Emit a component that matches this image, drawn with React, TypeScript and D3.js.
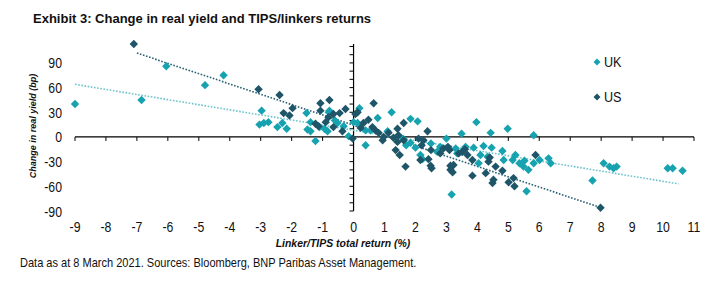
import React from "react";
import * as d3 from "d3";

// UK linkers: [total return %, change in real yield bp]
const ukPoints: [number, number][] = [
  [-9.0, 40], [-6.85, 45], [-6.05, 86], [-4.8, 63], [-4.2, 75],
  [-2.97, 32], [-3.04, 15], [-2.9, 17], [-2.75, 18], [-2.46, 12], [-2.3, 17], [-2.16, 10],
  [-1.52, 29], [-1.39, 18], [-1.49, 9], [-1.39, 7], [-1.23, -5], [-0.94, 10], [-0.84, 7],
  [-0.78, 32], [-0.8, 30], [-0.52, 17], [-0.32, 13], [-0.16, 1], [-1.1, 12], [-0.6, 20],
  [0.0, 18], [0.13, 17], [0.19, 35], [0.39, 8], [0.55, 8], [0.39, -10], [0.78, 23], [1.1, 7],
  [1.23, 30], [1.84, 22], [2.07, 19], [1.84, -7], [2.0, -13], [2.23, -27], [2.16, -22],
  [1.6, -2], [1.7, -10], [2.5, -8], [2.8, -12], [3.0, -2], [2.7, -18], [3.1, -15], [3.3, -14],
  [3.35, -20], [3.49, 4], [3.97, 18], [4.43, 5], [4.98, 10], [5.82, 2], [3.62, -12], [3.88, -13],
  [4.2, -11], [4.46, -13], [4.04, -32], [4.33, -24], [4.1, -22], [4.81, -17], [5.23, -22],
  [4.85, -28], [5.14, -28], [5.36, -32], [5.49, -36], [5.65, -40], [5.52, -29], [5.59, -66],
  [5.82, -32], [6.01, -28], [6.3, -26], [6.37, -32], [3.17, -70], [3.5, -18],
  [7.72, -53], [8.08, -32], [8.27, -36], [8.4, -38], [8.5, -36], [10.15, -38], [10.31, -38], [10.63, -41],
];

// US TIPS
const usPoints: [number, number][] = [
  [-7.1, 113], [-3.07, 58], [-2.39, 51], [-2.26, 29], [-1.97, 35], [-2.07, 26], [-1.07, 41],
  [-0.78, 45], [-1.07, 32], [-0.45, 29], [-0.26, 34], [-0.65, 28], [-0.81, 24], [-0.9, 18],
  [-1.23, 16], [-1.13, 13], [-0.65, 12], [-0.36, 7], [-0.03, -2],
  [0.06, 28], [0.13, 30], [0.65, 41], [0.32, 17], [0.48, 21], [0.61, 12], [0.23, 11], [0.71, 8],
  [0.81, 5], [0.94, -4], [0.97, 0], [1.13, 5], [1.29, -1], [1.42, 10], [1.62, 17], [2.39, 7],
  [1.45, 2], [1.62, -4], [1.42, -6], [1.36, -16], [1.49, -22], [1.68, -36], [2.1, -2], [2.26, -4],
  [2.16, -28], [2.42, -27], [2.49, -35], [2.52, -38], [3.13, -35],
  [2.2, -10], [2.5, -16], [2.8, -20], [2.9, -14], [3.05, -12], [3.1, -16], [3.2, -43], [3.23, -34],
  [3.13, -40], [3.4, -20], [3.52, -18], [3.68, -22], [3.84, -28], [3.6, -15], [4.36, -30],
  [4.59, -36], [4.81, -41], [4.27, -44], [3.84, -47], [4.52, -52], [4.49, -56], [5.01, -55],
  [5.17, -50], [5.2, -60], [5.88, -22], [7.98, -86], [4.4, -25],
];

// dotted trend lines (end points)
const ukTrend: [number, number][] = [[-9, 64], [10.5, -57]];
const usTrend: [number, number][] = [[-7, 102], [8, -86]];

const xTicks = d3.range(-9, 12, 1);
const yTickLabels = [90, 60, 30, 0, -30, -60, -90];
const yMinorTicks = d3.range(-90, 111, 10);

const UK_COLOR = "#17a2b0";
const US_COLOR = "#1f5568";
const FONT = "'Liberation Sans', Arial, sans-serif";
const NARROW = 0.82; // squeeze to mimic Arial Narrow

const diamond = (cx: number, cy: number, r: number) =>
  `M${cx},${cy - r}L${cx + r},${cy}L${cx},${cy + r}L${cx - r},${cy}Z`;

export default function App() {
  const width = 727;
  const height = 285;

  const x = d3.scaleLinear().domain([-9, 11]).range([75, 694]);
  const y = d3.scaleLinear().domain([-90, 113]).range([211, 44]);

  const line = d3
    .line<[number, number]>()
    .x((d) => x(d[0]))
    .y((d) => y(d[1]));

  return (
    <svg
      width={width}
      height={height}
      style={{ position: "absolute", left: 0, top: 0, background: "#fff" }}
    >
      <text x={33} y={23} fontFamily={FONT} fontWeight="bold" fontSize={13} fill="#111">
        Exhibit 3: Change in real yield and TIPS/linkers returns
      </text>

      {/* axes */}
      <line x1={x(-9)} x2={x(11)} y1={y(0)} y2={y(0)} stroke="#000" strokeWidth={1.2} />
      {xTicks.map((t) => (
        <line key={"xt" + t} x1={x(t)} x2={x(t)} y1={y(0)} y2={y(0) + 4} stroke="#000" />
      ))}
      <line x1={x(0)} x2={x(0)} y1={y(-90)} y2={y(113)} stroke="#000" strokeWidth={1.2} />
      {yMinorTicks.map((t) => (
        <line key={"yt" + t} x1={x(0) - 4} x2={x(0)} y1={y(t)} y2={y(t)} stroke="#000" />
      ))}

      {/* trend lines */}
      <path d={line(ukTrend) || ""} fill="none" stroke="#6cc3cc" strokeWidth={1.6} strokeDasharray="1.6,1.6" />
      <path d={line(usTrend) || ""} fill="none" stroke="#2b6275" strokeWidth={1.6} strokeDasharray="1.6,1.6" />

      {/* points */}
      {ukPoints.map((d, i) => (
        <path key={"uk" + i} d={diamond(x(d[0]), y(d[1]), 4.2)} fill={UK_COLOR} />
      ))}
      {usPoints.map((d, i) => (
        <path key={"us" + i} d={diamond(x(d[0]), y(d[1]), 4.2)} fill={US_COLOR} />
      ))}

      {/* tick labels */}
      {yTickLabels.map((t) => (
        <text
          key={"yl" + t}
          transform={`translate(62,${y(t) + 5.5}) scale(${NARROW},1)`}
          textAnchor="end"
          fontFamily={FONT}
          fontSize={15}
          fill="#111"
        >
          {t}
        </text>
      ))}
      {xTicks.map((t) => (
        <text
          key={"xl" + t}
          transform={`translate(${x(t)},232) scale(${NARROW},1)`}
          textAnchor="middle"
          fontFamily={FONT}
          fontSize={15}
          fill="#111"
        >
          {t}
        </text>
      ))}

      {/* axis titles */}
      <text
        transform={`translate(36,126) rotate(-90)`}
        textAnchor="middle"
        fontFamily={FONT}
        fontStyle="italic"
        fontWeight="bold"
        fontSize={9}
        fill="#111"
      >
        Change in real  yield (bp)
      </text>
      <text
        transform={`translate(343,247) scale(0.95,1)`}
        textAnchor="middle"
        fontFamily={FONT}
        fontStyle="italic"
        fontWeight="bold"
        fontSize={11}
        fill="#111"
      >
        Linker/TIPS total return (%)
      </text>

      {/* legend */}
      <path d={diamond(597, 62, 3.5)} fill={UK_COLOR} />
      <text transform={`translate(604,67) scale(0.9,1)`} fontFamily={FONT} fontSize={14} fill="#111">UK</text>
      <path d={diamond(597, 97, 3.5)} fill={US_COLOR} />
      <text transform={`translate(604,102) scale(0.9,1)`} fontFamily={FONT} fontSize={14} fill="#111">US</text>

      <text
        transform={`translate(20,267) scale(0.92,1)`}
        fontFamily={FONT}
        fontSize={12}
        fill="#111"
      >
        Data as at 8 March 2021.  Sources: Bloomberg, BNP Paribas Asset Management.
      </text>
    </svg>
  );
}
